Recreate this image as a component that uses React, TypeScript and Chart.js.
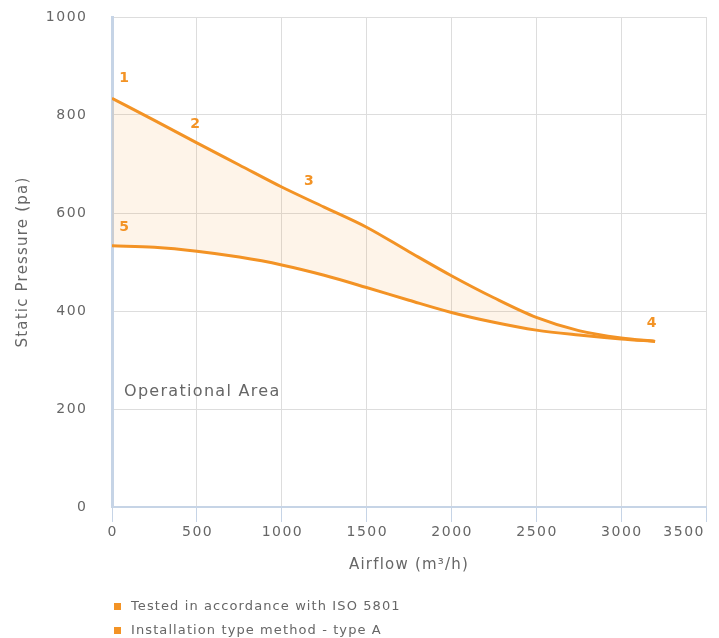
import React, { useEffect, useRef } from "react";
import { Chart, registerables } from "chart.js";

Chart.register(...registerables);

// ---- data ----
const upperAirflow = [0, 250, 500, 750, 1000, 1250, 1500, 1750, 2000, 2250, 2500, 2750, 3000, 3200];
const upperPressure = [834, 789, 743, 698, 653, 612, 571, 521, 472, 427, 387, 360, 345, 338];
const lowerAirflow = [0, 250, 500, 750, 1000, 1250, 1500, 1750, 2000, 2250, 2500, 2750, 3000, 3200];
const lowerPressure = [533, 530, 522, 510, 494, 473, 448, 422, 397, 377, 361, 351, 343, 338];

const pointLabels = ["1", "2", "3", "4", "5"];
const pointAirflow = [0, 490, 1160, 3180, 0];
const pointPressure = [834, 745, 627, 338, 533];

const xTicks = [0, 500, 1000, 1500, 2000, 2500, 3000, 3500];
const yTicks = [0, 200, 400, 600, 800, 1000];
const legendItems = ["Tested in accordance with ISO 5801", "Installation type method - type A"];
const xTitle = "Airflow (m\u00B3/h)";
const yTitle = "Static Pressure (pa)";
const areaLabel = "Operational Area";

const ORANGE = "#f39325";
const TEXT = "#666666";
const FONT = "DejaVu Sans";

const textPlugin = {
  id: "customText",
  afterDraw(chart: any) {
    const ctx = chart.ctx as CanvasRenderingContext2D;
    const xs = chart.scales.x;
    const ys = chart.scales.y;
    const area = chart.chartArea;
    ctx.save();
    ctx.fillStyle = TEXT;
    // y ticks
    (ctx as any).letterSpacing = "1.5px";
    ctx.font = `14px ${FONT}`;
    ctx.textAlign = "right";
    ctx.textBaseline = "middle";
    yTicks.forEach((v) => {
      ctx.fillText(String(v), 87.5, ys.getPixelForValue(v));
    });
    // x ticks
    ctx.textAlign = "left";
    xTicks.forEach((v) => {
      const label = String(v);
      const w = ctx.measureText(label).width;
      let left = xs.getPixelForValue(v) - w / 2 + 0.75;
      if (left + w > chart.width - 14) left = chart.width - 14 - w;
      ctx.fillText(label, left, 532);
    });
    // titles
    (ctx as any).letterSpacing = "1.2px";
    ctx.font = `15px ${FONT}`;
    ctx.textAlign = "center";
    ctx.fillText(xTitle, (area.left + area.right) / 2, 565);
    ctx.save();
    ctx.translate(23, (area.top + area.bottom) / 2);
    ctx.rotate(-Math.PI / 2);
    ctx.fillText(yTitle, 0, 0);
    ctx.restore();
    // operational area
    (ctx as any).letterSpacing = "1.3px";
    ctx.font = `16px ${FONT}`;
    ctx.textAlign = "left";
    ctx.fillText(areaLabel, 124, 392);
    // legend
    (ctx as any).letterSpacing = "1.1px";
    ctx.font = `13px ${FONT}`;
    legendItems.forEach((t, i) => {
      const y = 606.5 + i * 24;
      ctx.fillStyle = ORANGE;
      ctx.fillRect(114, y - 3.5, 7, 7);
      ctx.fillStyle = TEXT;
      ctx.fillText(t, 131, y);
    });
    // point labels
    ctx.fillStyle = ORANGE;
    ctx.font = `bold 14px ${FONT}`;
    (ctx as any).letterSpacing = "0px";
    ctx.textAlign = "center";
    pointLabels.forEach((l, i) => {
      let px = xs.getPixelForValue(pointAirflow[i]);
      const off = i === 0 ? 20 : 18;
      const py = ys.getPixelForValue(pointPressure[i]) - off;
      if (px < area.left + 12) px = area.left + 12;
      ctx.fillText(l, px, py);
    });
    ctx.restore();
  },
};

export default function App() {
  const ref = useRef<HTMLCanvasElement>(null);
  useEffect(() => {
    if (!ref.current) return;
    const chart = new Chart(ref.current, {
      type: "line",
      data: {
        datasets: [
          {
            data: upperAirflow.map((x, i) => ({ x, y: upperPressure[i] })),
            borderColor: ORANGE,
            borderWidth: 3,
            pointRadius: 0,
            cubicInterpolationMode: "monotone",
            fill: 1,
            backgroundColor: "rgba(243,147,37,0.1)",
          },
          {
            data: lowerAirflow.map((x, i) => ({ x, y: lowerPressure[i] })),
            borderColor: ORANGE,
            borderWidth: 3,
            pointRadius: 0,
            cubicInterpolationMode: "monotone",
            fill: false,
          },
        ],
      },
      options: {
        animation: false,
        responsive: false,
        layout: { padding: { top: 17, right: 13, left: 0, bottom: 0 } },
        plugins: { legend: { display: false }, tooltip: { enabled: false } },
        scales: {
          x: {
            type: "linear",
            min: 0,
            max: 3500,
            ticks: { stepSize: 500, display: false },
            grid: { color: "#dddddd", tickColor: "#c6d4e6", tickLength: 15, drawTicks: true },
            border: { color: "#c6d4e6", width: 2 },
            afterFit: (s: any) => {
              s.height = 131;
            },
          },
          y: {
            min: 0,
            max: 1000,
            ticks: { stepSize: 200, display: false },
            grid: { color: "#dddddd", drawTicks: false },
            border: { color: "#c6d4e6", width: 3 },
            afterFit: (s: any) => {
              s.width = 112;
            },
          },
        },
      },
      plugins: [textPlugin],
    } as any);
    return () => chart.destroy();
  }, []);
  return (
    <div style={{ position: "fixed", left: 0, top: 0, width: 719, height: 638, background: "#fff" }}>
      <canvas ref={ref} width={719} height={638} style={{ width: 719, height: 638, display: "block" }} />
    </div>
  );
}
